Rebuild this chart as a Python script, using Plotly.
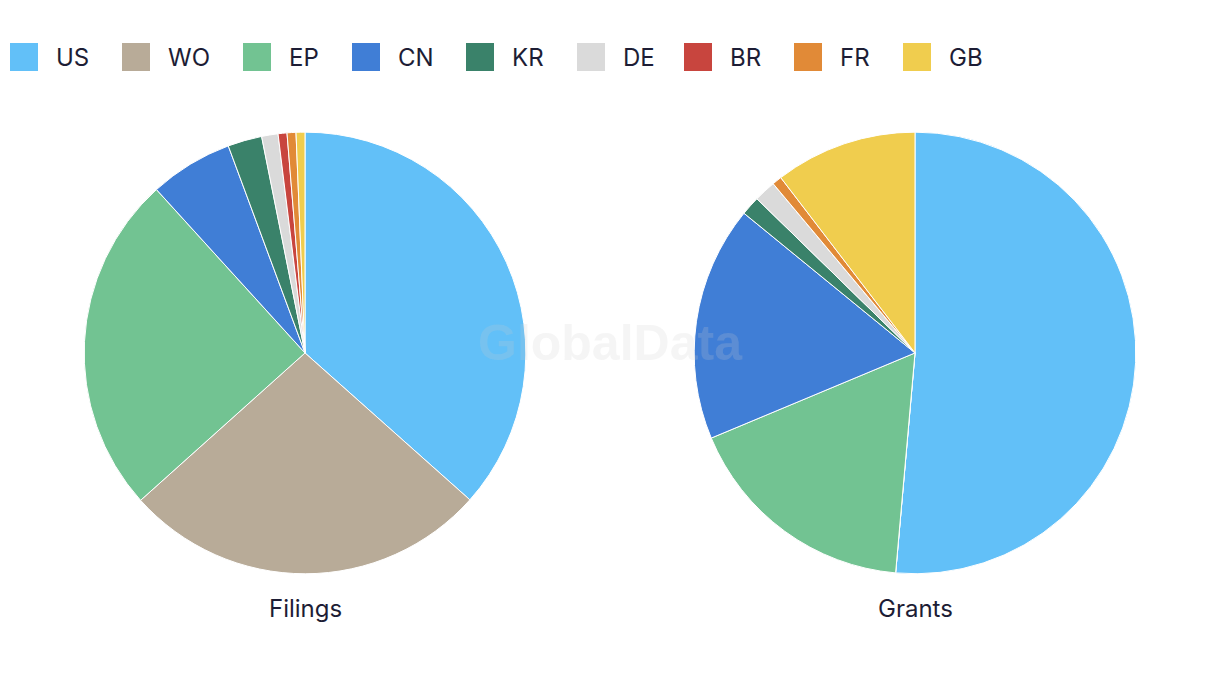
import plotly.graph_objects as go

# ---- data ----
categories = ["US", "WO", "EP", "CN", "KR", "DE", "BR", "FR", "GB"]
filings = [36.6, 26.8, 24.9, 6.1, 2.5, 1.2, 0.65, 0.65, 0.65]
grants = [51.4, 0.0, 17.3, 17.2, 1.4, 1.6, 0.0, 0.7, 10.4]
chart_titles = ["Filings", "Grants"]

# ---- style ----
colors = ["#62c0f8", "#b8ab98", "#72c392", "#407ed6", "#3a826a",
          "#dadada", "#c8453e", "#e18a37", "#f0cd4e"]
text_color = "#1d1d35"
font_family = "Inter, Roboto, sans-serif"
W, H = 1220, 686

fig = go.Figure()
domains = [[0.069, 0.431], [0.569, 0.931]]
for vals, dom in zip([filings, grants], domains):
    fig.add_trace(go.Pie(
        labels=categories, values=vals, sort=False, direction="clockwise",
        rotation=0, textinfo="none", showlegend=False,
        marker=dict(colors=colors, line=dict(color="white", width=1)),
        domain=dict(x=dom, y=[0.163, 0.808]),
    ))

annotations = []
shapes = []
# pie titles
for t, dom in zip(chart_titles, domains):
    annotations.append(dict(
        x=(dom[0] + dom[1]) / 2, y=1 - 608 / H, xref="paper", yref="paper",
        text=t, showarrow=False, xanchor="center", yanchor="middle",
        font=dict(size=24, color=text_color, family=font_family)))

# custom legend (layout positions)
legend_x = [10, 122, 243, 352, 466, 577, 684, 794, 903]
for cat, col, lx in zip(categories, colors, legend_x):
    shapes.append(dict(
        type="rect", xref="paper", yref="paper",
        x0=lx / W, x1=(lx + 28) / W, y0=1 - 71 / H, y1=1 - 43 / H,
        fillcolor=col, line=dict(width=0)))
    annotations.append(dict(
        x=(lx + 44) / W, y=1 - 57 / H, xref="paper", yref="paper",
        text=cat, showarrow=False, xanchor="left", yanchor="middle",
        font=dict(size=24, color=text_color, family=font_family)))

# watermark
annotations.append(dict(
    x=0.5, y=1 - 343 / H, xref="paper", yref="paper",
    text="<b>GlobalData</b>", showarrow=False, xanchor="center", yanchor="middle",
    font=dict(size=50, color="rgba(206,206,206,0.2)", family="Liberation Sans, Arial, sans-serif")))

fig.update_layout(
    width=W, height=H, margin=dict(l=0, r=0, t=0, b=0),
    paper_bgcolor="white", plot_bgcolor="white",
    showlegend=False, annotations=annotations, shapes=shapes,
)

fig.write_html("out.html")
